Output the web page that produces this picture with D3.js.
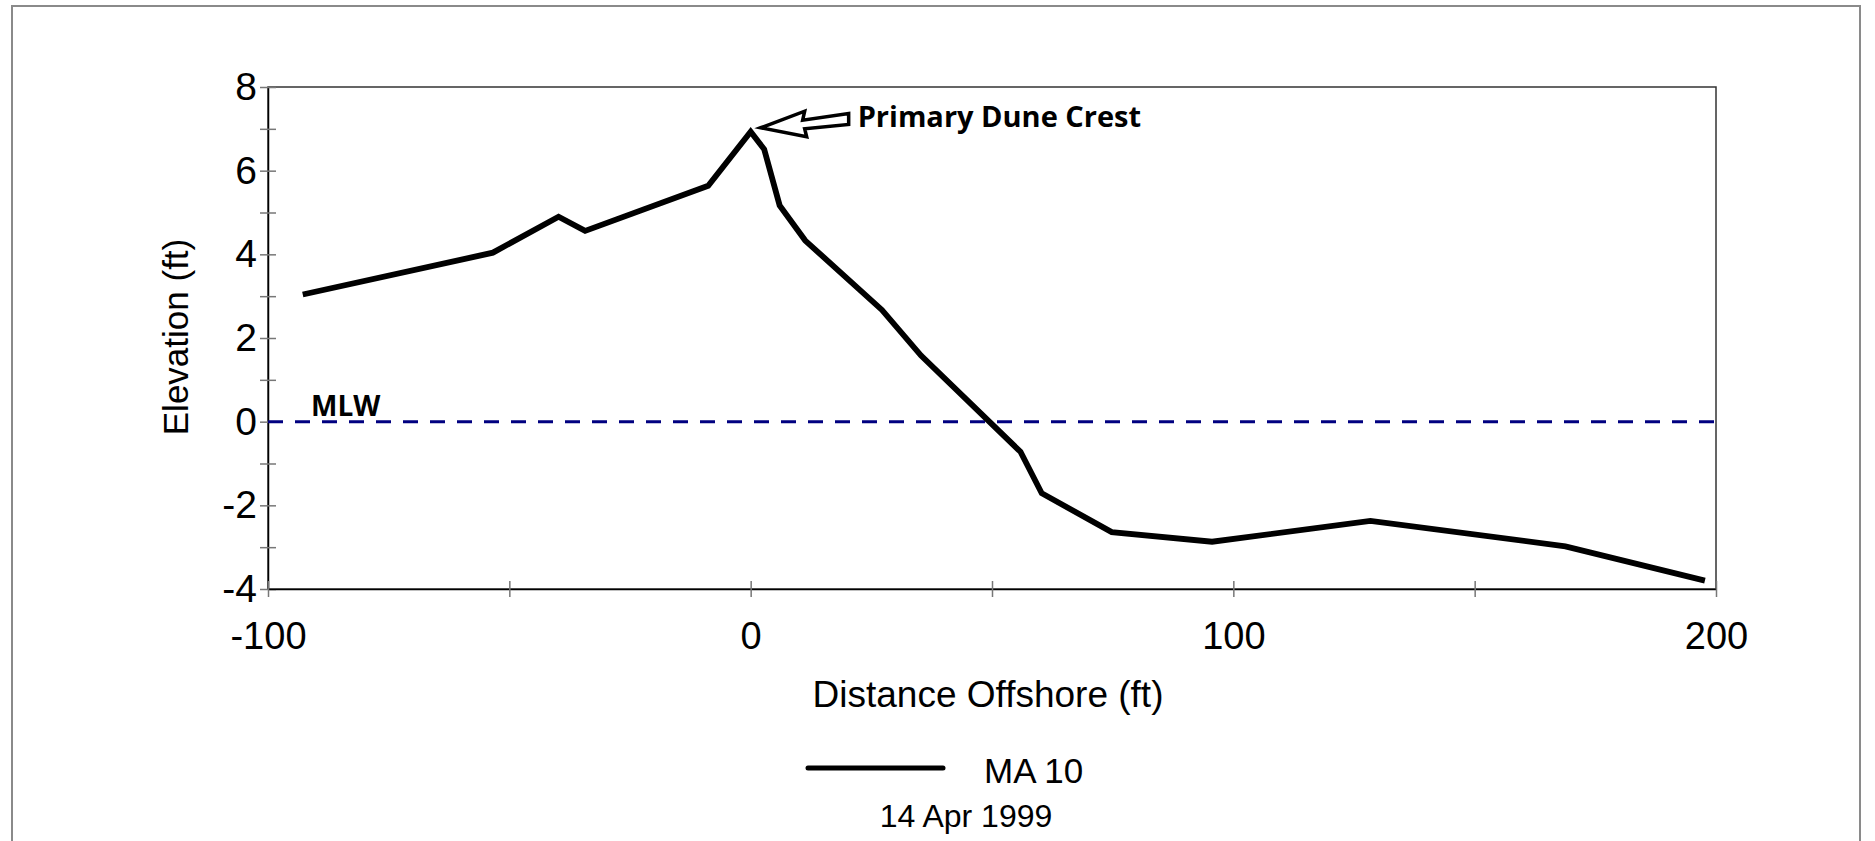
<!DOCTYPE html>
<html>
<head>
<meta charset="utf-8">
<script src="https://cdn.jsdelivr.net/npm/d3@7"></script>
<style>
  body { margin: 0; background: #fff; }
  svg { display: block; }
  .tick text { font-family: "Liberation Sans", Arial, sans-serif; fill: #000; }
</style>
</head>
<body>
<script>
// profile MA 10
const distance = [-92.8, -53.4, -39.8, -34.3, -8.8, 0, 2.8, 6.0, 11.3, 27.2, 35.3, 55.9, 60.3, 74.8, 95.6, 128.4, 168.8, 197.7];
const elevation = [3.04, 4.04, 4.9, 4.56, 5.64, 6.93, 6.51, 5.17, 4.33, 2.67, 1.58, -0.72, -1.71, -2.64, -2.87, -2.37, -2.98, -3.80];

const xTicks = [-100, -50, 0, 50, 100, 150, 200];
const xLabels = [-100, 0, 100, 200];
const yTicks = [-4, -3, -2, -1, 0, 1, 2, 3, 4, 5, 6, 7, 8];
const yLabels = [-4, -2, 0, 2, 4, 6, 8];

const seriesName = 'MA 10';
const surveyDate = '14 Apr 1999';
const mlwLevel = 0;
const crest = { x: 0, y: 6.93, label: 'Primary Dune Crest' };

const SCREEN = {
    width: 1875,
    height: 841,
    left: 268,
    right: 1716,
    top: 87,
    bottom: 589
};

const FONT = '"Liberation Sans", Arial, sans-serif';
const NOTE_FONT = '"Open Sans", "Liberation Sans", sans-serif';

const svg = d3.select('body').append('svg')
    .attr('width', SCREEN.width)
    .attr('height', SCREEN.height);

// outer frame (bottom edge runs off the page)
svg.append('path')
    .attr('d', `M12,${SCREEN.height + 10} V6 H1860 V${SCREEN.height + 10}`)
    .attr('fill', 'none')
    .attr('stroke', '#8a8a8a')
    .attr('stroke-width', 2);

const x = d3.scaleLinear().domain([-100, 200]).range([SCREEN.left, SCREEN.right]);
const y = d3.scaleLinear().domain([-4, 8]).range([SCREEN.bottom, SCREEN.top]);

// plot box
svg.append('rect')
    .attr('x', SCREEN.left)
    .attr('y', SCREEN.top)
    .attr('width', SCREEN.right - SCREEN.left)
    .attr('height', SCREEN.bottom - SCREEN.top)
    .attr('fill', 'none')
    .attr('stroke', '#333')
    .attr('stroke-width', 1.5);

const yAxis = d3.axisLeft(y)
    .tickValues(yTicks)
    .tickFormat(d => yLabels.includes(d) ? d : '')
    .tickSizeInner(8)
    .tickSizeOuter(0)
    .tickPadding(3);

const yAxisGroup = svg.append('g')
    .attr('transform', `translate(${SCREEN.left},0)`)
    .call(yAxis);
yAxisGroup.selectAll('.tick line').attr('x1', 8).attr('stroke', '#777').attr('stroke-width', 1.5);
yAxisGroup.selectAll('.tick text').style('font-size', '39px');
yAxisGroup.select('.domain').attr('stroke', '#000').attr('stroke-width', 1.5);

const xAxis = d3.axisBottom(x)
    .tickValues(xTicks)
    .tickFormat(d => xLabels.includes(d) ? d : '')
    .tickSizeInner(8)
    .tickSizeOuter(0)
    .tickPadding(25);

const xAxisGroup = svg.append('g')
    .attr('transform', `translate(0,${SCREEN.bottom})`)
    .call(xAxis);
xAxisGroup.selectAll('.tick line').attr('y1', -8).attr('stroke', '#777').attr('stroke-width', 1.5);
xAxisGroup.selectAll('.tick text').style('font-size', '38px');
xAxisGroup.select('.domain').attr('stroke', '#000').attr('stroke-width', 1.5);

// axis titles
svg.append('text')
    .attr('transform', `translate(188,${(SCREEN.top + SCREEN.bottom) / 2 - 1}) rotate(-90)`)
    .attr('text-anchor', 'middle')
    .style('font-family', FONT)
    .style('font-size', '35px')
    .text('Elevation (ft)');

svg.append('text')
    .attr('x', (SCREEN.left + SCREEN.right) / 2 - 4)
    .attr('y', 707)
    .attr('text-anchor', 'middle')
    .style('font-family', FONT)
    .style('font-size', '37px')
    .text('Distance Offshore (ft)');

// mean low water reference
svg.append('line')
    .attr('x1', x(-100))
    .attr('x2', x(200))
    .attr('y1', y(mlwLevel))
    .attr('y2', y(mlwLevel))
    .attr('stroke', '#000080')
    .attr('stroke-width', 3)
    .attr('stroke-dasharray', '15,12');

svg.append('text')
    .attr('x', 311)
    .attr('y', y(mlwLevel) - 6)
    .style('font-family', NOTE_FONT)
    .style('font-weight', 700)
    .style('font-size', '28px')
    .text('MLW');

// profile
const line = d3.line()
    .x((d, i) => x(distance[i]))
    .y(d => y(d));

svg.append('path')
    .datum(elevation)
    .attr('d', line)
    .attr('fill', 'none')
    .attr('stroke', '#000')
    .attr('stroke-width', 5.8)
    .attr('stroke-linejoin', 'miter');

// crest callout arrow, hung off the crest point
const tipX = x(crest.x) + 10;
const tipY = y(crest.y) - 4;
const arrowShape = [[0, 0], [44, -16.6], [42, -7.6], [88, -14.3], [88, -3.3], [44, 1], [46, 9]];
svg.append('polygon')
    .attr('points', arrowShape.map(p => [tipX + p[0], tipY + p[1]].join(',')).join(' '))
    .attr('fill', '#fff')
    .attr('stroke', '#000')
    .attr('stroke-width', 3.5)
    .attr('stroke-linejoin', 'miter');

svg.append('text')
    .attr('x', tipX + 97)
    .attr('y', tipY - 1)
    .style('font-family', NOTE_FONT)
    .style('font-weight', 700)
    .style('font-size', '29px')
    .text(crest.label);

// legend
svg.append('line')
    .attr('x1', 808).attr('x2', 943)
    .attr('y1', 768).attr('y2', 768)
    .attr('stroke', '#000')
    .attr('stroke-width', 5)
    .attr('stroke-linecap', 'round');

svg.append('text')
    .attr('x', 984)
    .attr('y', 783)
    .style('font-family', FONT)
    .style('font-size', '35px')
    .text(seriesName);

svg.append('text')
    .attr('x', 966)
    .attr('y', 827)
    .attr('text-anchor', 'middle')
    .style('font-family', FONT)
    .style('font-size', '32px')
    .text(surveyDate);
</script>
</body>
</html>
